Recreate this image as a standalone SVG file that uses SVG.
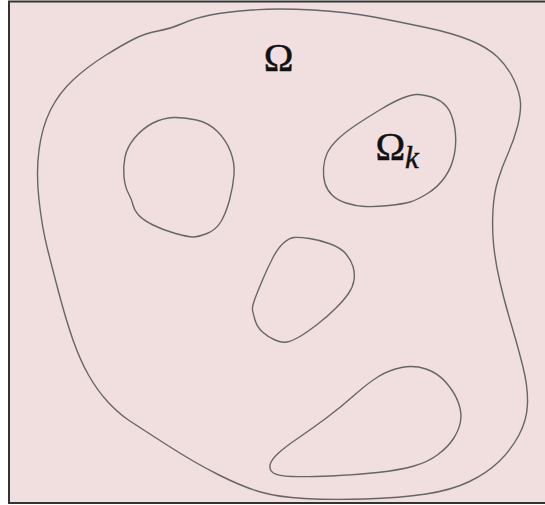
<svg xmlns="http://www.w3.org/2000/svg" width="545" height="505" viewBox="0 0 545 505">
<style>
.frame{fill:#f1dfdf;stroke:#333;stroke-width:2}
.curve{fill:none;stroke:#666;stroke-width:1.4;stroke-linejoin:round}
.lbl{font-family:"Liberation Serif","DejaVu Serif",serif;fill:#111;stroke:#111;stroke-width:0.5}
</style>
<rect width="545" height="505" fill="#ffffff"/>
<rect class="frame" x="9" y="1.5" width="540" height="501.5"/>
<g id="omega">
<path class="curve" d="M182.5,23.5 Q195,18 210.5,15 Q226,12 252,10 Q278,8 313,10 Q348,12 374,17 Q400,22 426,27.5 Q452,33 469.5,40 Q487,47 497.5,57 Q508,67 514,80 Q520,93 520.5,103 Q521,113 517.5,126.5 Q514,140 508,153.5 Q502,167 498,180 Q494,193 493,210 Q492,227 493.5,243.5 Q495,260 499.5,280 Q504,300 511,323.5 Q518,347 523,367 Q528,387 527.5,403.5 Q527,420 519,435 Q511,450 499,461.5 Q487,473 469.5,481.5 Q452,490 426,494 Q400,498 365,499 Q330,500 304,498.5 Q278,497 260.5,492 Q243,487 219,475 Q195,463 167,445 Q139,427 128.5,420 Q118,413 107.5,401.5 Q97,390 88.5,375 Q80,360 73,340 Q66,320 59,293.5 Q52,267 47,247 Q42,227 39,200 Q36,173 39,150 Q42,127 50.5,110 Q59,93 73,80 Q87,67 104.5,56 Q122,45 134,39 Q146,33 158,31 Q170,29 182.5,23.5 Z"/>
<text class="lbl" x="278.7" y="70.5" font-size="40" text-anchor="middle">Ω</text>
</g>
<g id="hole1">
<path class="curve" d="M173.5,117.5 Q184,117 196.5,120 Q209,123 217.5,131.5 Q226,140 230.5,151.5 Q235,163 234,175 Q233,187 229.5,200 Q226,213 221,221.5 Q216,230 207,233.5 Q198,237 193,237 Q188,237 175.5,233.5 Q163,230 153,225 Q143,220 138.5,215 Q134,210 133,205 Q132,200 128.5,193.5 Q125,187 124,177 Q123,167 125,157 Q127,147 135,137.5 Q143,128 153,123 Q163,118 173.5,117.5 Z"/>
</g>
<g id="omega_k">
<path class="curve" d="M416,94.5 Q422,94 431.5,97 Q441,100 446.5,106.5 Q452,113 454.5,126.5 Q457,140 454.5,153.5 Q452,167 445,177 Q438,187 427.5,193.5 Q417,200 410,202 Q403,204 389,205.5 Q375,207 365,206.5 Q355,206 346,203 Q337,200 332,195 Q327,190 325,183.5 Q323,177 323.5,168.5 Q324,160 327,153.5 Q330,147 337,140 Q344,133 356,125 Q368,117 380.5,109.5 Q393,102 401.5,98.5 Q410,95 416,94.5 Z"/>
<text class="lbl" x="375.5" y="159.5" font-size="40">Ω</text>
<text class="lbl" x="405" y="168.3" font-size="31" font-style="italic">k</text>
</g>
<g id="hole3">
<path class="curve" d="M294,237.5 Q299,237 309.5,238.5 Q320,240 330.5,244 Q341,248 346,254 Q351,260 353,266.5 Q355,273 354,280 Q353,287 348.5,293.5 Q344,300 335.5,308.5 Q327,317 316.5,325 Q306,333 299,337 Q292,341 287,342 Q282,343 275,340 Q268,337 262.5,332 Q257,327 255,320 Q253,313 252.5,310 Q252,307 254.5,300 Q257,293 262.5,280 Q268,267 273,257.5 Q278,248 283.5,243 Q289,238 294,237.5 Z"/>
</g>
<g id="hole4">
<path class="curve" d="M401.5,367.5 Q414,365 426,369 Q438,373 446.5,383 Q455,393 458.5,403 Q462,413 460.5,421.5 Q459,430 453.5,438.5 Q448,447 438,454.5 Q428,462 414,466 Q400,470 377.5,472.5 Q355,475 330.5,476 Q306,477 292,476.5 Q278,476 273.5,473 Q269,470 270,465 Q271,460 278,453.5 Q285,447 299,437.5 Q313,428 327,417.5 Q341,407 354.5,395 Q368,383 378.5,376.5 Q389,370 401.5,367.5 Z"/>
</g>
<g id="connectors"></g>
</svg>
